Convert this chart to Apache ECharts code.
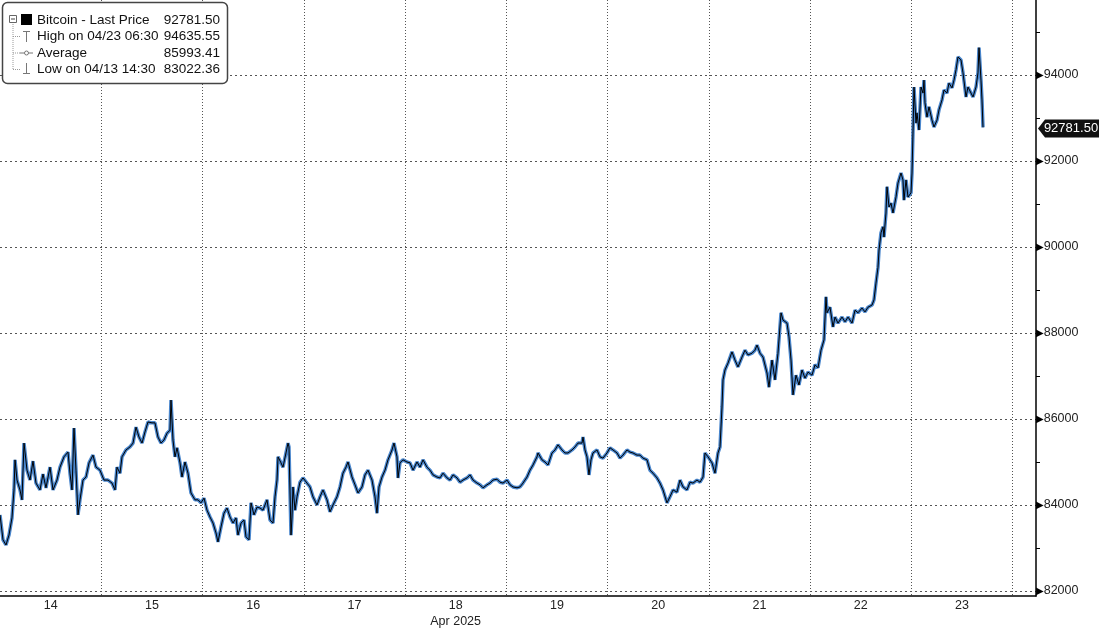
<!DOCTYPE html>
<html>
<head>
<meta charset="utf-8">
<title>Bitcoin - Last Price</title>
<script src="https://cdn.jsdelivr.net/npm/echarts@6/dist/echarts.min.js"></script>
<style>
  html, body { margin: 0; padding: 0; background: #fff; }
  #chart { width: 1099px; height: 630px; }
</style>
</head>
<body>
<div id="chart"></div>
<script>
// --- data (hours counted from Apr 14 00:00, price in USD) ---
const dayLabels = ['14', '15', '16', '17', '18', '19', '20', '21', '22', '23'];
const monthLabel = 'Apr 2025';
const monthDay = '18';
const yTicks = [82000, 84000, 86000, 88000, 90000, 92000, 94000];
const lastPrice = 92781.50;
const legendNames = ['Bitcoin - Last Price', 'High on 04/23 06:30', 'Average', 'Low on 04/13 14:30'];
const legendValues = ['92781.50', '94635.55', '85993.41', '83022.36'];

const priceSeries = [
  [0,83770],[0.71,83190],[1.42,83070],[2.13,83300],[2.84,83700],[3.32,84350],[3.56,85050],[4.03,84580],[4.74,84350],[5.21,84120],
  [5.69,85440],[6.40,84810],[7.11,84580],[7.82,85020],[8.53,84510],[9.48,84350],[10.19,84720],[10.90,84400],[11.85,84880],[12.56,84350],
  [13.51,84580],[14.22,84880],[15.17,85120],[16.12,85230],[16.59,84740],[17.07,84350],[17.54,85790],[18.01,84810],[18.49,83770],[18.96,84120],
  [19.67,84580],[20.39,84650],[21.10,84980],[22.04,85160],[22.76,84880],[23.70,84810],[24.65,84580],[25.60,84580],[26.55,84510],[27.26,84350],
  [27.73,84880],[28.44,84740],[28.92,85120],[29.87,85280],[30.81,85350],[31.53,85440],[32.24,85810],[32.95,85580],[33.66,85440],[34.37,85700],
  [35.08,85930],[36.03,85910],[36.74,85910],[37.45,85580],[38.16,85440],[38.87,85510],[39.59,85670],[40.30,85740],[40.53,86440],[41.01,85510],
  [41.48,85120],[41.96,85330],[42.67,84980],[43.14,84650],[43.85,85000],[44.56,84740],[45.27,84280],[46.22,84120],[46.93,84120],[47.64,84050],
  [48.36,84160],[49.07,83880],[49.78,83720],[50.49,83580],[51.20,83350],[51.67,83140],[52.39,83490],[53.10,83810],[53.81,83930],[54.52,83720],
  [55.23,83580],[55.94,83700],[56.41,83300],[57.13,83580],[57.84,83650],[58.31,83260],[59.02,83190],[59.50,84050],[60.21,83770],[60.92,83950],
  [61.63,83930],[62.34,83880],[63.29,84120],[64.00,83650],[64.71,83580],[65.19,84190],[65.66,84580],[65.90,85120],[66.61,84980],[67.08,84880],
  [67.79,85210],[68.27,85440],[68.50,85350],[68.98,83300],[69.21,83720],[69.45,84420],[69.93,83880],[70.40,84190],[71.11,84530],[71.82,84630],
  [72.77,84510],[73.48,84420],[74.19,84190],[75.14,84000],[75.85,84190],[76.56,84350],[77.51,84120],[78.22,83840],[78.93,84000],[79.88,84190],
  [80.59,84420],[81.30,84740],[82.01,84880],[82.49,85000],[83.44,84650],[84.15,84470],[84.86,84280],[85.81,84420],[86.52,84700],[87.23,84810],
  [88.18,84580],[88.89,84190],[89.36,83810],[89.84,84420],[90.55,84650],[91.26,84810],[91.97,85050],[92.92,85280],[93.39,85440],[94.10,85120],
  [94.34,84630],[94.81,84980],[95.53,85050],[96.47,85000],[97.19,84980],[97.90,84810],[98.84,85000],[99.56,84880],[100.27,85050],[101.21,84880],
  [101.93,84810],[102.64,84700],[103.59,84650],[104.30,84630],[105.01,84740],[105.96,84630],[106.67,84580],[107.38,84700],[108.33,84630],[109.04,84530],
  [109.75,84580],[110.70,84630],[111.41,84700],[112.12,84580],[113.07,84510],[113.78,84470],[114.49,84400],[115.44,84470],[116.15,84510],[116.86,84580],
  [117.81,84600],[118.52,84530],[119.23,84510],[120.18,84580],[120.89,84470],[121.60,84420],[122.55,84400],[123.26,84420],[123.97,84510],[124.92,84650],
  [125.63,84810],[126.34,84930],[127.29,85120],[127.53,85210],[128.47,85050],[129.19,85000],[129.90,84930],[130.84,85210],[131.56,85280],[132.27,85400],
  [133.21,85280],[133.93,85210],[134.64,85210],[135.59,85280],[136.30,85350],[137.01,85440],[137.96,85440],[138.19,85580],[138.67,85280],[139.14,85120],
  [139.61,84700],[140.09,85050],[140.56,85210],[141.51,85280],[142.22,85120],[142.93,85090],[143.88,85210],[144.59,85330],[145.30,85280],[146.25,85210],
  [146.96,85090],[147.67,85160],[148.62,85280],[149.33,85230],[150.04,85210],[150.99,85160],[151.70,85160],[152.41,85090],[153.36,85050],[154.07,84810],
  [154.79,84740],[155.73,84630],[156.44,84510],[157.16,84350],[158.10,84050],[158.81,84190],[159.53,84350],[160.47,84300],[161.19,84580],[161.90,84420],
  [162.84,84350],[163.56,84530],[164.27,84510],[165.21,84580],[165.93,84530],[166.64,84650],[167.11,85210],[167.82,85120],[168.77,84980],[169.48,84740],
  [170.19,85210],[170.67,85350],[171.14,86280],[171.38,86910],[171.85,87140],[172.56,87300],[173.51,87560],[174.22,87370],[174.93,87210],[175.88,87440],
  [176.59,87600],[177.30,87490],[178.25,87530],[178.96,87600],[179.44,87720],[180.15,87530],[180.86,87440],[181.81,87070],[182.28,86740],[182.99,87370],
  [183.70,86910],[184.41,87530],[185.13,88470],[185.60,88300],[186.55,88230],[187.02,87910],[187.50,87370],[187.97,86560],[188.68,87020],[189.39,86790],
  [190.10,87140],[190.81,86950],[191.53,87090],[192.47,87020],[193.19,87260],[193.90,87190],[194.61,87600],[195.32,87840],[195.79,88840],[196.03,88470],
  [196.74,88600],[197.45,88140],[197.93,88370],[198.64,88230],[199.59,88370],[200.30,88260],[201.01,88370],[201.96,88230],[202.67,88530],[203.38,88470],
  [204.33,88580],[205.04,88490],[205.75,88600],[206.70,88650],[207.17,88770],[207.64,89160],[208.12,89530],[208.36,89930],[208.83,90330],[209.30,90470],
  [209.54,90230],[210.01,90790],[210.25,91400],[210.73,90930],[211.20,91020],[211.67,90790],[212.38,91160],[212.86,91490],[213.57,91720],[214.04,91560],
  [214.28,91090],[214.76,91560],[215.23,91160],[215.94,91260],[216.18,91720],[216.41,92650],[216.65,93720],[217.13,92880],[217.36,93120],[217.84,92720],
  [218.31,93720],[218.79,93580],[219.02,93880],[219.26,93350],[219.73,93020],[220.21,93260],[220.92,92950],[221.39,92790],[222.10,92950],[222.58,93190],
  [223.29,93420],[223.76,93650],[224.47,93580],[224.95,93810],[225.66,93700],[226.13,93880],[226.61,94120],[227.08,94420],[227.79,94350],[228.27,94050],
  [228.98,93490],[229.45,93720],[230.16,93580],[230.64,93490],[231.35,93720],[231.82,94050],[232.06,94636],[232.53,93880],[232.77,93420],[233.01,92782]
];

// --- layout ---
const FONT = 'Liberation Sans';
const hourMax = 245.57;
const yMin = 82000;
const yMax = 95744;
const gridRight = 63;
const axisX = 1099 - gridRight;

function legendGraphic() {
  const rowY = [20, 36.5, 53, 69.5];
  const grey = '#777';
  const els = [
    { type: 'rect', shape: { x: 2.5, y: 2.5, width: 225, height: 81, r: 5 },
      style: { fill: '#fff', stroke: '#444', lineWidth: 1.5 } },
    // tree lines
    { type: 'line', shape: { x1: 13, y1: 22, x2: 13, y2: rowY[3] }, style: { stroke: '#999', lineDash: [1, 1] } },
    { type: 'rect', shape: { x: 9.5, y: 15.5, width: 7, height: 7 }, style: { fill: '#fff', stroke: '#666' } },
    { type: 'line', shape: { x1: 11, y1: 19, x2: 15, y2: 19 }, style: { stroke: '#444' } },
    { type: 'rect', shape: { x: 21, y: 14, width: 11, height: 11 }, style: { fill: '#000' } },
    // high marker
    { type: 'line', shape: { x1: 26.5, y1: 31, x2: 26.5, y2: 42 }, style: { stroke: grey } },
    { type: 'line', shape: { x1: 23, y1: 31.5, x2: 30, y2: 31.5 }, style: { stroke: grey } },
    // average marker
    { type: 'line', shape: { x1: 20, y1: rowY[2], x2: 33, y2: rowY[2] }, style: { stroke: grey } },
    { type: 'circle', shape: { cx: 26.5, cy: rowY[2], r: 2 }, style: { fill: '#fff', stroke: grey } },
    // low marker
    { type: 'line', shape: { x1: 26.5, y1: 63, x2: 26.5, y2: 74 }, style: { stroke: grey } },
    { type: 'line', shape: { x1: 23, y1: 73.5, x2: 30, y2: 73.5 }, style: { stroke: grey } }
  ];
  [1, 2, 3].forEach(i => {
    els.push({ type: 'line', shape: { x1: 13, y1: rowY[i], x2: 20, y2: rowY[i] }, style: { stroke: '#999', lineDash: [1, 1] } });
  });
  legendNames.forEach((name, i) => {
    els.push({ type: 'text', x: 37, y: rowY[i],
      style: { text: name, fill: '#111', font: '13.5px "' + FONT + '"', verticalAlign: 'middle' } });
    els.push({ type: 'text', x: 220, y: rowY[i],
      style: { text: legendValues[i], fill: '#111', font: '13.5px "' + FONT + '"', align: 'right', verticalAlign: 'middle' } });
  });
  return els;
}

const chart = echarts.init(document.getElementById('chart'));

chart.setOption({
  animation: false,
  backgroundColor: '#fff',
  grid: [
    { left: 0, right: gridRight, top: 0, bottom: 39 },
    { left: 0, right: gridRight, top: 0, bottom: 34 }
  ],
  xAxis: [
    { type: 'value', gridIndex: 0, min: 0, max: hourMax, show: false },
    {
      type: 'value', gridIndex: 1, min: 0, max: hourMax, interval: 24,
      axisLine: { onZero: false, lineStyle: { color: '#000', width: 1.5 } },
      axisTick: { show: false },
      splitLine: { show: true, showMinLine: false, showMaxLine: false, lineStyle: { color: '#555', type: [1, 2] } },
      axisLabel: {
        customValues: dayLabels.map((d, i) => 12 + 24 * i),
        margin: 2,
        lineHeight: 16,
        fontSize: 12.5,
        fontFamily: FONT,
        color: '#222',
        formatter: v => {
          const d = dayLabels[Math.round((v - 12) / 24)];
          return d === monthDay ? d + '\n' + monthLabel : d;
        }
      }
    }
  ],
  yAxis: [
    {
      type: 'value', gridIndex: 0, position: 'right', min: yMin, max: yMax, interval: 2000,
      axisLine: { show: false, onZero: false },
      axisTick: { show: false },
      minorTick: { show: true, splitNumber: 2, length: 4, lineStyle: { color: '#000' } },
      splitLine: { show: true, showMaxLine: false, lineStyle: { color: '#555', type: [2, 3] } },
      axisLabel: {
        margin: 0,
        showMaxLabel: false,
        formatter: v => yTicks.includes(v) ? '{t|\u25B6}{v|' + v + '}' : '',
        rich: {
          t: { fontSize: 10, color: '#000', fontFamily: 'DejaVu Sans' },
          v: { fontSize: 12.5, color: '#222', fontFamily: FONT }
        }
      }
    },
    {
      type: 'value', gridIndex: 1, position: 'right', min: 0, max: 1,
      axisLine: { show: true, onZero: false, lineStyle: { color: '#000', width: 1.5 } },
      axisTick: { show: false }, axisLabel: { show: false }, splitLine: { show: false }
    }
  ],
  series: [
    {
      type: 'line', xAxisIndex: 0, yAxisIndex: 0, data: priceSeries,
      symbol: 'none', z: 3,
      lineStyle: { color: '#4a86cc', width: 3.5 }
    },
    {
      type: 'line', xAxisIndex: 0, yAxisIndex: 0, data: priceSeries,
      symbol: 'none', z: 4,
      lineStyle: { color: '#000', width: 1 }
    }
  ],
  graphic: legendGraphic()
});

// last price tag on the right axis
const tagY = chart.convertToPixel({ yAxisIndex: 0 }, lastPrice) + 1;
chart.setOption({
  graphic: legendGraphic().concat([
    { type: 'polygon', shape: { points: [[axisX + 2, tagY], [axisX + 9, tagY - 9], [1099, tagY - 9], [1099, tagY + 9], [axisX + 9, tagY + 9]] },
      style: { fill: '#111' } },
    { type: 'text', x: 1071, y: tagY,
      style: { text: lastPrice.toFixed(2), fill: '#fff', font: '13px "' + FONT + '"', align: 'center', verticalAlign: 'middle' } }
  ])
}, { replaceMerge: ['graphic'] });
</script>
</body>
</html>
